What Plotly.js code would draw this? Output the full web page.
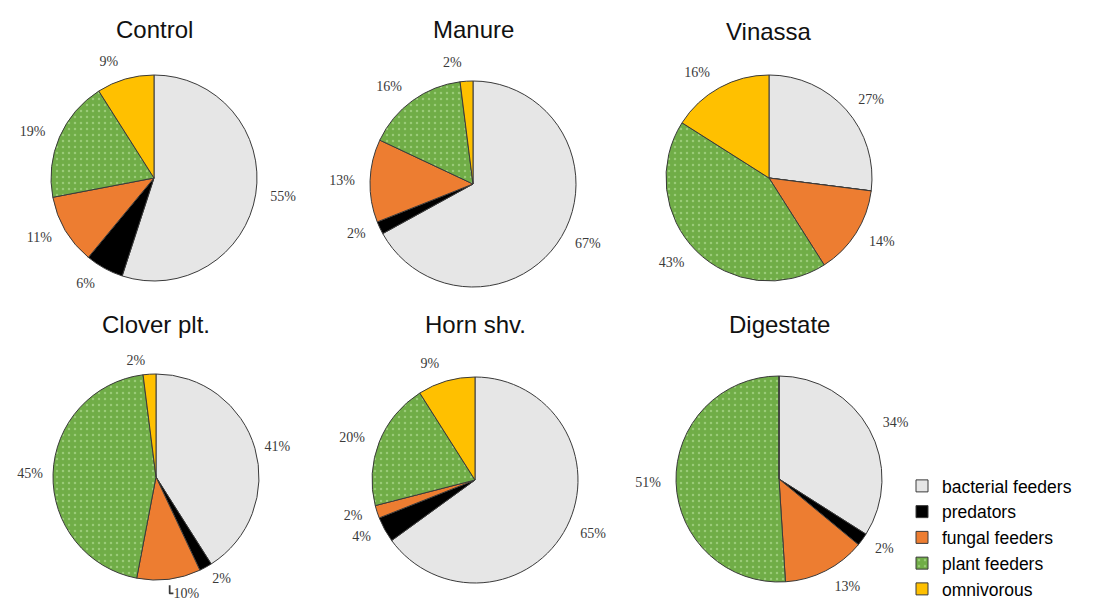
<!DOCTYPE html>
<html>
<head>
<meta charset="utf-8">
<script src="https://cdn.plot.ly/plotly-3.0.1.min.js"></script>
<style>html,body{margin:0;padding:0;background:#fff;}#chart{width:1098px;height:601px;}</style>
</head>
<body>
<div id="chart"></div>
<script>
// ---- data ----
const groups = ["bacterial feeders", "predators", "fungal feeders", "plant feeders", "omnivorous"];
const treatments = ["Control", "Manure", "Vinassa", "Clover plt.", "Horn shv.", "Digestate"];
const control   = [55, 6, 11, 19, 9];
const manure    = [67, 2, 13, 16, 2];
const vinassa   = [27, 0, 14, 43, 16];
const cloverPlt = [41, 2, 10, 45, 2];
const hornShv   = [65, 4, 2, 20, 9];
const digestate = [34, 2, 13, 51, 0];
const seriesValues = [control, manure, vinassa, cloverPlt, hornShv, digestate];

// ---- styling / layout ----
const W = 1098, H = 601, R = 103;
const labelRadius = [114, 114, 114, 109, 114, 114];
const colors = ["#e6e6e6", "#000000", "#ed7d31", "#70ad47", "#ffc000"];
const patternShapes = ["", "", "", ".", ""];
const centers = [[154, 178], [473, 184], [769, 178], [156, 477], [475, 480], [779, 479]];
const titleY = [29, 29, 31, 323, 323, 323];

function dom(i, r) {
  const [cx, cy] = centers[i];
  return {x: [(cx - r) / W, (cx + r) / W], y: [1 - (cy + r) / H, 1 - (cy - r) / H]};
}

// visible pies (slices, legend)
const pieTraces = seriesValues.map((vals, i) => ({
  type: "pie",
  labels: groups,
  values: vals,
  textinfo: "none",
  sort: false,
  direction: "clockwise",
  rotation: 0,
  hoverinfo: "label+value",
  marker: {
    colors: colors,
    line: {color: "#3a3a3a", width: 1},
    pattern: {shape: patternShapes, fgcolor: "#9acb78", bgcolor: "#70ad47", size: 6, solidity: 0.14}
  },
  domain: dom(i, R),
  name: treatments[i]
}));

// percentage labels, placed by a slightly larger transparent pie of the same values
const labelTraces = seriesValues.map((vals, i) => ({
  type: "pie",
  labels: groups,
  values: vals,
  text: vals.map(v => v > 0 ? v + "%" : ""),
  textinfo: "text",
  textposition: "outside",
  sort: false,
  direction: "clockwise",
  rotation: 0,
  showlegend: false,
  hoverinfo: "skip",
  outsidetextfont: {family: "Liberation Serif, Times New Roman, serif", size: 14, color: "#3a3a3a"},
  marker: {colors: groups.map(() => "rgba(0,0,0,0)"), line: {width: 0}},
  domain: dom(i, labelRadius[i]),
  name: treatments[i] + " labels"
}));

const annotations = treatments.map((t, i) => ({
  text: t,
  xref: "paper", yref: "paper",
  x: centers[i][0] / W, y: 1 - (titleY[i] + 1) / H,
  xanchor: "center", yanchor: "middle",
  showarrow: false,
  font: {family: "Liberation Sans, Arial, sans-serif", size: 24, color: "#111"}
}));

const layout = {
  width: W, height: H,
  margin: {l: 0, r: 0, t: 0, b: 0, autoexpand: false},
  paper_bgcolor: "#fff",
  showlegend: true,
  legend: {
    x: 0.8215, y: 1 - 468 / H, xanchor: "left", yanchor: "top",
    font: {family: "Liberation Sans, Arial, sans-serif", size: 17.5, color: "#000"},
    bgcolor: "rgba(0,0,0,0)", traceorder: "normal"
  },
  annotations: annotations
};

Plotly.newPlot("chart", pieTraces.concat(labelTraces), layout, {displayModeBar: false, staticPlot: true});
</script>
</body>
</html>
